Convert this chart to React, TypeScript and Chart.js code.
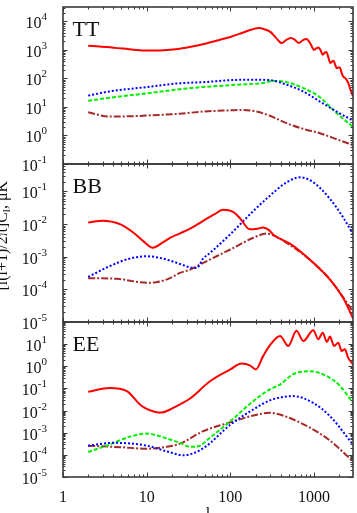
import React, { useEffect, useRef } from 'react';
import { Chart, registerables } from 'chart.js';

Chart.register(...registerables);

// ---------------- data ----------------
const panelNames = ['TT', 'BB', 'EE'];
const xTickValues = [1, 10, 100, 1000];
const xTickLabels = ['1', '10', '100', '1000'];
const xTitle = 'l';
const lRange = [1, 2920];

const ttYTickExps = [-1, 0, 1, 2, 3, 4];
const bbYTickExps = [-5, -4, -3, -2, -1];
const eeYTickExps = [-5, -4, -3, -2, -1, 0, 1];
const ttRange = [0.1, 32000];
const bbRange = [1e-5, 0.69];
const eeRange = [1e-5, 100];

// TT
const ttRedL = [2, 4, 7, 10, 14, 19, 25, 35, 50, 70, 100, 140, 180, 220, 260, 300, 350, 410, 470, 530, 590, 660, 730, 810, 900, 1000, 1070, 1130, 1200, 1270, 1340, 1400, 1480, 1560, 1640, 1710, 1790, 1870, 1950, 2040, 2130, 2230, 2340, 2450, 2560, 2690, 2800, 2920];
const ttRed = [1400, 1200, 1020, 955, 960, 1010, 1100, 1320, 1650, 2150, 2850, 4000, 5200, 5900, 5200, 4300, 2700, 1740, 2300, 2610, 2250, 1740, 2150, 2400, 1700, 1010, 1150, 1220, 950, 680, 800, 840, 560, 350, 390, 417, 300, 230, 240, 240, 160, 117, 105, 89, 70, 45, 33, 24];
const ttBlueL = [2, 3.6, 10, 19, 25, 47.5, 119, 200, 297, 470, 743, 1175, 1860, 2920];
const ttBlue = [25, 35, 50, 63, 68, 74, 89, 90, 87, 60, 35, 15.5, 6.9, 3.3];
const ttGreenL = [2, 3.6, 10, 19, 25, 47.5, 119, 232, 350, 470, 743, 1175, 1860, 2920];
const ttGreen = [16.4, 21, 30, 38, 42, 50, 60, 68, 82, 74, 46, 22, 6.1, 2.0];
const ttBrownL = [2, 3.6, 6, 10, 25, 47.5, 100, 143, 206, 297, 470, 743, 1175, 1860, 2920];
const ttBrown = [6.5, 4.6, 4.7, 5.0, 5.8, 6.9, 7.6, 7.9, 6.9, 4.9, 2.7, 1.7, 1.2, 0.74, 0.46];

// BB
const bbRedL = [2, 3, 4.8, 6.9, 9.1, 11.8, 15.8, 19, 25, 33, 47.5, 65, 82, 108, 130, 171, 210, 247, 290, 326, 515, 700, 980, 1550, 2230, 2920];
const bbRed = [0.0111, 0.0126, 0.0099, 0.0055, 0.0030, 0.00188, 0.0028, 0.0038, 0.0052, 0.0072, 0.0126, 0.020, 0.0272, 0.0234, 0.0151, 0.0069, 0.0072, 0.0079, 0.0065, 0.0047, 0.0025, 0.0014, 0.00065, 0.0002, 5.4e-5, 1.3e-5];
const bbBlueL = [2, 3.6, 6, 10, 15, 19, 25, 32, 39.5, 47.5, 57, 100, 188, 297, 470, 680, 980, 1550, 2230, 2920];
const bbBlue = [2.4e-4, 5.1e-4, 8.5e-4, 1.03e-3, 9.0e-4, 7.6e-4, 6.0e-4, 4.8e-4, 4.5e-4, 8.9e-4, 1.3e-3, 4.9e-3, 0.025, 0.074, 0.19, 0.27, 0.19, 0.059, 0.0158, 0.0049];
const bbBrownL = [2, 4.4, 10, 13, 19, 25, 33, 47.5, 100, 188, 271, 326, 617, 980, 1550, 2920];
const bbBrown = [2.2e-4, 2.1e-4, 1.6e-4, 1.65e-4, 2.2e-4, 3.2e-4, 4.0e-4, 6.5e-4, 1.66e-3, 3.8e-3, 5.1e-3, 4.5e-3, 1.66e-3, 6.5e-4, 2.0e-4, 2.1e-5];

// EE
const eeRedL = [2, 3.6, 5.8, 8.3, 10, 15, 19, 25, 33, 57, 100, 136, 171, 202, 247, 310, 392, 492, 617, 743, 980, 1125, 1270, 1420, 1550, 1735, 1950, 2130, 2340, 2550, 2920];
const eeRed = [0.071, 0.105, 0.076, 0.019, 0.012, 0.0081, 0.0112, 0.019, 0.035, 0.21, 0.72, 1.32, 1.1, 0.72, 2.95, 11, 23.4, 8.3, 39.8, 13.8, 42.7, 16.6, 33.1, 12.6, 21.9, 8.3, 11.7, 4.9, 5.9, 2.45, 1.23];
const eeGreenL = [2, 3.6, 6, 10, 14, 19, 25, 33, 42, 57, 100, 188, 297, 392, 565, 893, 1420, 2040, 2920];
const eeGreen = [1.35e-4, 2.9e-4, 6.3e-4, 9.1e-4, 7.1e-4, 4.9e-4, 3.5e-4, 2.3e-4, 2.5e-4, 5.9e-4, 3.3e-3, 0.027, 0.091, 0.15, 0.44, 0.60, 0.36, 0.13, 0.022];
const eeBlueL = [2, 4, 10, 19, 27.5, 47.5, 100, 188, 297, 565, 980, 1550, 2920];
const eeBlue = [2.6e-4, 3.5e-4, 2.6e-4, 1.3e-4, 9.5e-5, 2.0e-4, 2.3e-3, 0.0112, 0.029, 0.045, 0.022, 0.0056, 2.9e-4];
const eeBrownL = [2, 5, 10, 19, 25, 47.5, 100, 188, 297, 470, 980, 1550, 2920];
const eeBrown = [2.6e-4, 2.2e-4, 1.9e-4, 2.45e-4, 3.2e-4, 1.17e-3, 2.95e-3, 6.0e-3, 7.9e-3, 5.2e-3, 1.38e-3, 4.4e-4, 5.1e-5];

// ---------------- styles / layout ----------------
const W = 357;
const H = 513;
const plotLeft = 63;
const plotRight = 353;
const panelTop = [7, 164, 322];
const panelBottom = [164, 322, 477];
const SERIF = '"Liberation Serif", "Times New Roman", serif';
const FRAME = '#3a3a3a';
const RED = { color: '#ff0000', dash: [] as number[] };
const BLUE = { color: '#0000ff', dash: [2, 2] };
const GREEN = { color: '#00ee00', dash: [4, 2] };
const BROWN = { color: '#a52a2a', dash: [7, 2, 2, 2] };

type Series = { l: number[]; v: number[]; style: { color: string; dash: number[] } };

const panels: { series: Series[]; range: number[]; exps: number[] }[] = [
  {
    range: ttRange,
    exps: ttYTickExps,
    series: [
      { l: ttRedL, v: ttRed, style: RED },
      { l: ttBlueL, v: ttBlue, style: BLUE },
      { l: ttGreenL, v: ttGreen, style: GREEN },
      { l: ttBrownL, v: ttBrown, style: BROWN },
    ],
  },
  {
    range: bbRange,
    exps: bbYTickExps,
    series: [
      { l: bbRedL, v: bbRed, style: RED },
      { l: bbBlueL, v: bbBlue, style: BLUE },
      { l: bbBrownL, v: bbBrown, style: BROWN },
    ],
  },
  {
    range: eeRange,
    exps: eeYTickExps,
    series: [
      { l: eeRedL, v: eeRed, style: RED },
      { l: eeBlueL, v: eeBlue, style: BLUE },
      { l: eeGreenL, v: eeGreen, style: GREEN },
      { l: eeBrownL, v: eeBrown, style: BROWN },
    ],
  },
];

function drawYTitle(ctx: CanvasRenderingContext2D) {
  ctx.save();
  ctx.translate(7, 233);
  ctx.rotate(-Math.PI / 2);
  ctx.fillStyle = '#111';
  ctx.textAlign = 'left';
  ctx.textBaseline = 'alphabetic';
  const parts: { t: string; size: number; dy: number }[] = [
    { t: '[l(l+1)/2\u03c0]C', size: 16, dy: 0 },
    { t: 'l', size: 11, dy: 3 },
    { t: ', \u03bcK', size: 16, dy: 0 },
    { t: '2', size: 11, dy: -7 },
  ];
  let total = 0;
  const widths = parts.map((p) => {
    ctx.font = `${p.size}px ${SERIF}`;
    const w = ctx.measureText(p.t).width;
    total += w;
    return w;
  });
  let x = -total / 2;
  parts.forEach((p, i) => {
    ctx.font = `${p.size}px ${SERIF}`;
    ctx.fillText(p.t, x, p.dy);
    x += widths[i];
  });
  ctx.restore();
}

function panelPlugin(idx: number) {
  return {
    id: 'panelDecor' + idx,
    afterDraw(chart: any) {
      const ctx: CanvasRenderingContext2D = chart.ctx;
      const xs = chart.scales.x;
      const ys = chart.scales.y;
      const L = xs.left, R = xs.right, T = ys.top, B = ys.bottom;
      ctx.save();
      ctx.strokeStyle = FRAME;
      ctx.lineWidth = 1;
      ctx.beginPath();
      for (let e = 0; e <= 3; e++) {
        for (let m = 1; m <= 9; m++) {
          const v = m * Math.pow(10, e);
          if (v < xs.min || v > xs.max) continue;
          const px = Math.round(xs.getPixelForValue(v)) + 0.5;
          const len = m === 1 ? 4.5 : 2.5;
          ctx.moveTo(px, B);
          ctx.lineTo(px, B - len);
          ctx.moveTo(px, T);
          ctx.lineTo(px, T + len);
        }
      }
      const e0 = Math.floor(Math.log10(ys.min) + 1e-9);
      const e1 = Math.ceil(Math.log10(ys.max));
      for (let e = e0; e <= e1; e++) {
        for (let m = 1; m <= 9; m++) {
          const v = m * Math.pow(10, e);
          if (v < ys.min * 0.999 || v > ys.max) continue;
          const py = Math.round(ys.getPixelForValue(v)) + 0.5;
          const len = m === 1 ? 4.5 : 2.5;
          ctx.moveTo(L, py);
          ctx.lineTo(L + len, py);
          ctx.moveTo(R, py);
          ctx.lineTo(R - len, py);
        }
      }
      ctx.stroke();
      ctx.lineWidth = 1.6;
      ctx.strokeRect(L, T, R - L, B - T);

      // y tick labels 10^e
      ctx.fillStyle = '#111';
      ctx.textBaseline = 'alphabetic';
      ctx.textAlign = 'left';
      const xr = 47;
      for (const e of panels[idx].exps) {
        const py = ys.getPixelForValue(Math.pow(10, e));
        const es = String(e);
        ctx.font = `11px ${SERIF}`;
        const we = ctx.measureText(es).width;
        ctx.font = `16px ${SERIF}`;
        const wb = ctx.measureText('10').width;
        ctx.fillText('10', xr - we - wb, py + 7);
        ctx.font = `11px ${SERIF}`;
        ctx.fillText(es, xr - we, py - 1);
      }

      // panel name
      ctx.font = `22px ${SERIF}`;
      ctx.fillText(panelNames[idx], L + 9.5, T + 28.5);

      if (idx === 2) {
        ctx.font = `16px ${SERIF}`;
        ctx.textAlign = 'center';
        xTickValues.forEach((v, i) => {
          ctx.fillText(xTickLabels[i], xs.getPixelForValue(v), 502);
        });
        ctx.fillText(xTitle, (L + R) / 2, 519);
      }
      if (idx === 1) {
        drawYTitle(ctx);
      }
      ctx.restore();
    },
  };
}

function makeChart(canvas: HTMLCanvasElement, idx: number) {
  const p = panels[idx];
  return new Chart(canvas, {
    type: 'line',
    data: {
      datasets: p.series.map((s) => ({
        data: s.l.map((l, i) => ({ x: l, y: s.v[i] })),
        borderColor: s.style.color,
        backgroundColor: s.style.color,
        borderWidth: 2,
        borderDash: s.style.dash,
        pointRadius: 0,
        fill: false,
        cubicInterpolationMode: 'monotone' as const,
      })),
    },
    options: {
      responsive: false,
      animation: false,
      devicePixelRatio: 1,
      events: [],
      layout: {
        padding: {
          left: plotLeft,
          right: W - plotRight,
          top: panelTop[idx],
          bottom: H - panelBottom[idx],
        },
      },
      scales: {
        x: { type: 'logarithmic', min: lRange[0], max: lRange[1], display: false },
        y: { type: 'logarithmic', min: p.range[0], max: p.range[1], display: false },
      },
      plugins: {
        legend: { display: false },
        tooltip: { enabled: false },
      },
    },
    plugins: [panelPlugin(idx)],
  } as any);
}

export default function App() {
  const r0 = useRef<HTMLCanvasElement>(null);
  const r1 = useRef<HTMLCanvasElement>(null);
  const r2 = useRef<HTMLCanvasElement>(null);

  useEffect(() => {
    const refs = [r0, r1, r2];
    const charts = refs.map((r, i) => makeChart(r.current as HTMLCanvasElement, i));
    return () => charts.forEach((c) => c.destroy());
  }, []);

  const cs: React.CSSProperties = { position: 'absolute', left: 0, top: 0, width: W, height: H };
  return (
    <div style={{ position: 'absolute', left: 0, top: 0, width: W, height: H, background: '#fff', overflow: 'hidden' }}>
      <canvas ref={r0} width={W} height={H} style={cs} />
      <canvas ref={r1} width={W} height={H} style={cs} />
      <canvas ref={r2} width={W} height={H} style={cs} />
    </div>
  );
}
